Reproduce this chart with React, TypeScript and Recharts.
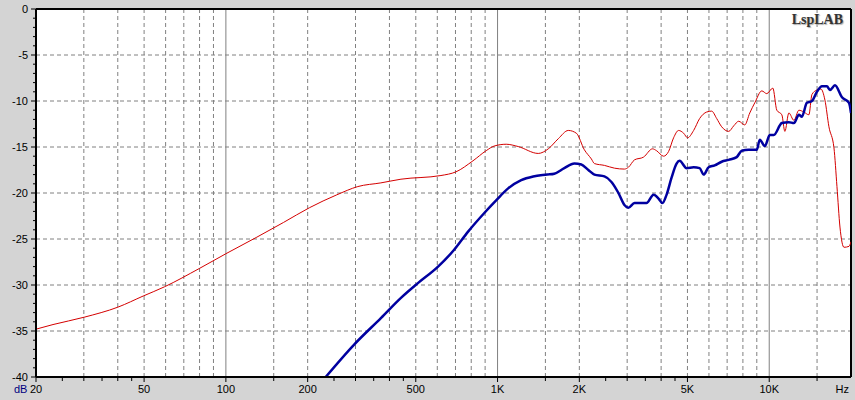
import React from "react";
import {
  LineChart,
  Line,
  XAxis,
  YAxis,
  CartesianGrid,
  ReferenceLine,
} from "recharts";

// red (thin) response
const redFreq = [
  20, 23.1, 30.1, 40.1, 49.6, 59.4, 79.9, 100, 130, 163, 203, 256, 306, 372, 441, 619, 703, 812,
  908, 971, 1076, 1191, 1412, 1537, 1673, 1822, 1950, 2087, 2215, 2273, 2474, 2694, 2931, 3032,
  3192, 3446, 3719, 3848, 4083, 4260, 4446, 4638, 4840, 5007, 5270, 5546, 5884, 6140, 6405, 6683,
  7093, 7402, 7722, 8125, 8480, 8848, 9390, 9795, 10310, 10666, 11129, 11418, 11812, 12326, 12861,
  13420, 13996, 14360, 14983, 15500, 16034, 16588, 17310, 17756, 18214, 18846, 19662, 20000,
];
const redDb = [
  -34.8, -34.3, -33.5, -32.4, -31.2, -30.2, -28.2, -26.6, -24.8, -23.2, -21.6, -20.2, -19.3, -18.9,
  -18.5, -18.1, -17.7, -16.5, -15.4, -14.9, -14.7, -14.95, -15.7, -15.2, -14.1, -13.2, -13.5, -15.3,
  -16.3, -16.8, -17.0, -17.3, -17.4, -17.2, -16.4, -16.1, -15.2, -15.4, -16.0, -15.5, -14.0, -13.2,
  -13.5, -14.0, -13.2, -11.9, -11.2, -11.1, -11.9, -12.8, -13.3, -12.7, -12.2, -12.6, -11.3, -10.2,
  -8.9, -9.2, -8.6, -11.0, -11.5, -13.3, -11.3, -12.1, -11.0, -11.2, -11.5, -9.3, -8.8, -8.7, -9.9,
  -12.8, -15.1, -19.3, -23.7, -25.9, -25.8, -25.3,
];

// blue (thick) response
const blueFreq = [
  233, 296, 372, 441, 509, 604, 691, 779, 892, 988, 1094, 1222, 1353, 1524, 1617, 1761, 1917, 2034,
  2159, 2273, 2474, 2626, 2786, 2931, 3032, 3192, 3534, 3752, 3913, 4046, 4188, 4373, 4560, 4678,
  4966, 5270, 5546, 5737, 5984, 6298, 6683, 7093, 7592, 7922, 8408, 8998, 9232, 9632, 10050, 10396,
  11129, 11812, 12326, 12861, 13190, 13760, 14360, 14983, 15632, 16308, 16730, 17460, 18528, 19662,
  20000,
];
const blueDb = [
  -40, -36.5, -33.6, -31.4, -29.8, -28.0, -26.2, -24.2, -22.2, -20.8, -19.5, -18.6, -18.2, -18.0,
  -17.9, -17.3, -16.8, -16.9, -17.5, -18.0, -18.2, -18.8, -20.0, -21.3, -21.6, -21.1, -21.1, -20.2,
  -20.6, -21.1, -20.2, -18.3, -16.8, -16.5, -17.3, -17.2, -17.3, -18.0, -17.2, -17.0, -16.6, -16.4,
  -16.1, -15.4, -15.3, -15.3, -14.2, -14.9, -13.7, -13.7, -12.4, -12.3, -12.4, -11.5, -11.7, -10.2,
  -10.0, -9.0, -8.4, -8.4, -8.8, -8.3, -9.6, -10.2, -11.3,
];

const xTicks = [
  20, 25, 30, 35, 40, 45, 50, 100, 150, 200, 250, 300, 350, 400, 450, 500, 1000, 1500, 2000, 2500,
  3000, 3500, 4000, 4500, 5000, 10000, 15000,
];
const xLabels: Record<number, string> = {
  20: "20", 50: "50", 100: "100", 200: "200", 500: "500",
  1000: "1K", 2000: "2K", 5000: "5K", 10000: "10K",
};
const gridDashed = [
  30, 40, 50, 60, 70, 80, 90, 150, 200, 300, 400, 500, 600, 700, 800, 900,
  1500, 2000, 3000, 4000, 5000, 6000, 7000, 8000, 9000, 15000,
];
const gridSolid = [100, 1000, 10000];
const yGrid = [-5, -10, -15, -20, -25, -30, -35];
const yTicks = Array.from({ length: 41 }, (_, i) => -i);

const red = redFreq.map((f, i) => ({ f, v: redDb[i] }));
const blue = blueFreq.map((f, i) => ({ f, v: blueDb[i] }));

const FONT = "'Liberation Sans', Arial, sans-serif";

const YTick = (props: any) => {
  const { x, y, payload } = props;
  const major = payload.value % 5 === 0;
  return (
    <g>
      <line x1={x - (major ? 5 : 3)} x2={x} y1={y} y2={y} stroke="#000" />
      {major && (
        <text x={x - 8} y={y + 4} textAnchor="end" fontSize={11} fontFamily={FONT} fill="#000">
          {payload.value}
        </text>
      )}
    </g>
  );
};

const XTick = (props: any) => {
  const { x, y, payload } = props;
  const label = xLabels[payload.value];
  return (
    <g>
      <line x1={x} x2={x} y1={y} y2={y + (label ? 5 : 4)} stroke="#000" />
      {label && (
        <text x={x} y={y + 16} textAnchor="middle" fontSize={11} fontFamily={FONT} fill="#000">
          {label}
        </text>
      )}
    </g>
  );
};

export default function App() {
  return (
    <div style={{ position: "relative", width: 855, height: 400, background: "#d4d4d4" }}>
      <style>{`body{margin:0}`}</style>
      <LineChart width={855} height={400} data={red} margin={{ top: 9, right: 4, left: 0, bottom: 0 }}>
        <CartesianGrid
          fill="#fff"
          stroke="#808080"
          strokeDasharray="4 3"
          horizontalValues={yGrid}
          verticalValues={gridDashed}
        />
        <CartesianGrid stroke="#808080" horizontal={false} verticalValues={gridSolid} />
        <XAxis
          dataKey="f"
          type="number"
          scale="log"
          domain={[20, 20000]}
          allowDataOverflow
          ticks={xTicks}
          interval={0}
          height={23}
          tickSize={0}
          tickMargin={0}
          tick={<XTick />}
          axisLine={{ stroke: "#000", strokeWidth: 2 }}
        />
        <YAxis
          type="number"
          domain={[-40, 0]}
          allowDataOverflow
          ticks={yTicks}
          interval={0}
          width={36}
          tickSize={0}
          tickMargin={0}
          tick={<YTick />}
          axisLine={{ stroke: "#000", strokeWidth: 2 }}
        />
        <ReferenceLine y={0} stroke="#000" strokeWidth={2} />
        <ReferenceLine x={20000} stroke="#000" strokeWidth={2} />
        <Line
          data={red}
          dataKey="v"
          type="monotoneX"
          stroke="#d40000"
          strokeWidth={1}
          dot={false}
          isAnimationActive={false}
        />
        <Line
          data={blue}
          dataKey="v"
          type="monotoneX"
          stroke="#0000a0"
          strokeWidth={2.5}
          dot={false}
          isAnimationActive={false}
        />
      </LineChart>
      <div style={{ position: "absolute", left: 14, top: 383, fontSize: 11, fontFamily: FONT, color: "#000080" }}>
        dB
      </div>
      <div style={{ position: "absolute", right: 6, top: 383, fontSize: 11, fontFamily: FONT, color: "#000" }}>
        Hz
      </div>
      <div
        style={{
          position: "absolute",
          right: 12,
          top: 12,
          fontSize: 14,
          fontWeight: "bold",
          fontFamily: "'Liberation Serif', 'Times New Roman', serif",
          color: "#333",
          textShadow: "1px 1px 1px #aaa",
        }}
      >
        LspLAB
      </div>
    </div>
  );
}
